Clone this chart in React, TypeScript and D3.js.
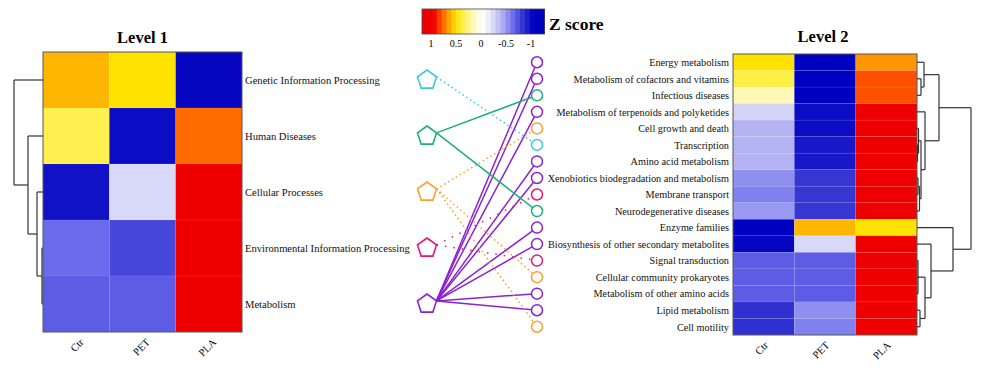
import React from "react";
import * as d3 from "d3";

// ---------- data ----------
const samples = ["Ctr", "PET", "PLA"];

const level1 = [
  "Genetic Information Processing",
  "Human Diseases",
  "Cellular Processes",
  "Environmental Information Processing",
  "Metabolism",
];
const level1Ctr = [0.65, 0.4, -0.93, -0.6, -0.65];
const level1PET = [0.55, -0.95, -0.2, -0.72, -0.65];
const level1PLA = [-0.97, 0.8, 1, 1, 1];

const level2 = [
  "Energy metabolism",
  "Metabolism of cofactors and vitamins",
  "Infectious diseases",
  "Metabolism of terpenoids and polyketides",
  "Cell growth and death",
  "Transcription",
  "Amino acid metabolism",
  "Xenobiotics biodegradation and metabolism",
  "Membrane transport",
  "Neurodegenerative diseases",
  "Enzyme families",
  "Biosynthesis of other secondary metabolites",
  "Signal transduction",
  "Cellular community prokaryotes",
  "Metabolism of other amino acids",
  "Lipid metabolism",
  "Cell motility",
];
const level2Ctr = [0.55, 0.42, 0.22, -0.22, -0.35, -0.35, -0.35, -0.48, -0.53, -0.45, -1, -0.97, -0.65, -0.65, -0.65, -0.8, -0.8];
const level2PET = [-1, -1, -1, -0.95, -0.95, -0.9, -0.9, -0.78, -0.78, -0.78, 0.65, -0.2, -0.65, -0.65, -0.65, -0.48, -0.53];
const level2PLA = [0.72, 0.85, 0.85, 1, 1, 1, 1, 1, 1, 1, 0.55, 1, 1, 1, 1, 1, 1];
// index of the level-1 category each level-2 pathway belongs to
const level2Parent = [4, 4, 1, 4, 2, 0, 4, 4, 3, 1, 4, 4, 3, 2, 4, 4, 2];

const legendTicks = [1, 0.5, 0, -0.5, -1];

// dendrograms (leaf = row index, h = merge height in px)
type TNode = number | { h: number; c: TNode[] };
const treeLeft: TNode = { h: 29, c: [0, { h: 15, c: [1, { h: 6, c: [2, { h: 1, c: [3, 4] }] }] }] };
const treeRight: TNode = {
  h: 54,
  c: [
    {
      h: 22,
      c: [
        { h: 7, c: [0, { h: 4, c: [1, 2] }] },
        {
          h: 8,
          c: [
            3,
            {
              h: 4,
              c: [
                { h: 1.5, c: [4, { h: 0.5, c: [5, 6] }] },
                { h: 2.5, c: [{ h: 1, c: [7, 8] }, 9] },
              ],
            },
          ],
        },
      ],
    },
    { h: 36, c: [10, { h: 14, c: [11, { h: 8, c: [{ h: 1, c: [12, 13, 14] }, { h: 3, c: [15, 16] }] }] }] },
  ],
};

// ---------- styles ----------
const catColors = ["#3ec8dc", "#1fae7a", "#ff9f2e", "#e8157c", "#8a22d0"];
const catDash = ["1.5,3", null, "1.5,3", "1.5,7", null];

const color = d3
  .scaleLinear<string>()
  .domain([1, 0.85, 0.7, 0.55, 0.4, 0.2, 0, -0.2, -0.4, -0.6, -0.8, -1])
  .range(["#ee0000", "#ff5000", "#ffa000", "#ffe200", "#fff050", "#fff8c0", "#ffffff", "#d8d8f8", "#a8a8f2", "#6a6aec", "#3030d0", "#0000c0"])
  .clamp(true);

const FONT = "Liberation Serif, Times New Roman, DejaVu Serif, serif";

function dendro(tree: TNode, yOf: (i: number) => number, xOf: (h: number) => number) {
  const segs: [number, number, number, number][] = [];
  function walk(n: TNode): { y: number; h: number } {
    if (typeof n === "number") return { y: yOf(n), h: 0 };
    const kids = n.c.map(walk);
    const ys = kids.map((k) => k.y);
    const y = (ys[0] + ys[ys.length - 1]) / 2;
    kids.forEach((k) => segs.push([xOf(k.h), k.y, xOf(n.h), k.y]));
    segs.push([xOf(n.h), d3.min(ys)!, xOf(n.h), d3.max(ys)!]);
    return { y, h: n.h };
  }
  walk(tree);
  return segs;
}

function Heatmap({ rows, cols, vals, x, y }: any) {
  return (
    <g>
      {rows.map((r: string, i: number) =>
        cols.map((c: string, j: number) => (
          <rect
            key={r + c}
            x={x(c)}
            y={y(r)}
            width={x.bandwidth()}
            height={y.bandwidth()}
            fill={color(vals[j][i])}
            stroke="rgba(255,255,255,0.12)"
            strokeWidth={0.6}
          />
        ))
      )}
      <rect
        x={x.range()[0]}
        y={y.range()[0]}
        width={x.range()[1] - x.range()[0]}
        height={y.range()[1] - y.range()[0]}
        fill="none"
        stroke="#555"
        strokeWidth={1}
      />
    </g>
  );
}

export default function App() {
  const xL = d3.scaleBand().domain(samples).range([43, 242]);
  const yL = d3.scaleBand().domain(level1).range([52, 332]);
  const xR = d3.scaleBand().domain(samples).range([733, 917]);
  const yR = d3.scaleBand().domain(level2).range([54, 335]);
  const cyL = (i: number) => yL(level1[i])! + yL.bandwidth() / 2;
  const cyR = (i: number) => yR(level2[i])! + yR.bandwidth() / 2;

  const segL = dendro(treeLeft, cyL, (h) => 43 - h);
  const segR = dendro(treeRight, cyR, (h) => 917 + h);

  const pentX = 427;
  const pentR = 10;
  const circX = 537;
  const pent = (cx: number, cy: number) =>
    d3.range(5)
      .map((k) => {
        const a = ((-90 + k * 72) * Math.PI) / 180;
        return `${cx + pentR * Math.cos(a)},${cy + pentR * Math.sin(a)}`;
      })
      .join(" ");
  const rv = (-18 * Math.PI) / 180;

  const lx = d3.scaleLinear().domain([1, -1]).range([431, 531]);
  const legendSteps = d3.range(1.18, -1.27, -0.098);
  const tf = { fontFamily: FONT };

  return (
    <svg width={989} height={377} style={{ position: "absolute", left: 0, top: 0, background: "#fff", fontFamily: FONT }}>
      <rect width={989} height={377} fill="#fff" />
      {/* titles */}
      <text style={tf} x={142.5} y={43} textAnchor="middle" fontSize={16.5} fontWeight="bold">Level 1</text>
      <text style={tf} x={823} y={42} textAnchor="middle" fontSize={16.5} fontWeight="bold">Level 2</text>

      {/* heatmaps */}
      <Heatmap rows={level1} cols={samples} vals={[level1Ctr, level1PET, level1PLA]} x={xL} y={yL} />
      <Heatmap rows={level2} cols={samples} vals={[level2Ctr, level2PET, level2PLA]} x={xR} y={yR} />

      {/* dendrograms */}
      <g stroke="#333" strokeWidth={1.2} fill="none">
        {segL.map((s, i) => <line key={"l" + i} x1={s[0]} y1={s[1]} x2={s[2]} y2={s[3]} />)}
        {segR.map((s, i) => <line key={"r" + i} x1={s[0]} y1={s[1]} x2={s[2]} y2={s[3]} />)}
      </g>

      {/* row labels */}
      {level1.map((r, i) => (
        <text style={tf} key={r} x={245} y={cyL(i) + 4} fontSize={10.6} fill="#111">{r}</text>
      ))}
      {level2.map((r, i) => (
        <text style={tf} key={r} x={729} y={cyR(i) + 3.8} fontSize={10.25} textAnchor="end" fill="#111">{r}</text>
      ))}

      {/* column labels */}
      {samples.map((s) => (
        <text style={tf} key={"cl" + s} transform={`translate(${xL(s)! + xL.bandwidth() / 2 + 8},${343}) rotate(-45)`} textAnchor="end" fontSize={10.5}>{s}</text>
      ))}
      {samples.map((s) => (
        <text style={tf} key={"cr" + s} transform={`translate(${xR(s)! + xR.bandwidth() / 2 + 5},${346}) rotate(-45)`} textAnchor="end" fontSize={10.5}>{s}</text>
      ))}

      {/* connections */}
      {level2.map((r, i) => {
        const p = level2Parent[i];
        const y0 = cyL(p);
        return (
          <line
            key={"c" + r}
            x1={pentX + pentR * Math.cos(rv)}
            y1={y0 + pentR * Math.sin(rv)}
            x2={circX}
            y2={cyR(i)}
            stroke={catColors[p]}
            strokeWidth={1.5}
            strokeDasharray={catDash[p] ?? undefined}
          />
        );
      })}
      {level1.map((r, i) => (
        <polygon key={"p" + r} points={pent(pentX, cyL(i))} fill="#fff" stroke={catColors[i]} strokeWidth={1.6} />
      ))}
      {level2.map((r, i) => (
        <circle key={"o" + r} cx={circX} cy={cyR(i)} r={5.5} fill="#fff" stroke={catColors[level2Parent[i]]} strokeWidth={1.5} />
      ))}

      {/* legend */}
      <g>
        {legendSteps.map((v, i) => (
          <rect key={"lg" + i} x={lx(v)} y={9} width={lx(v - 0.098) - lx(v) + 0.5} height={25} fill={color(v)} />
        ))}
        <rect x={lx(1.18)} y={9} width={lx(-1.27) - lx(1.18)} height={25} fill="none" stroke="#444" strokeWidth={0.8} />
        {legendTicks.map((t) => (
          <text style={tf} key={"t" + t} x={lx(t)} y={47} textAnchor="middle" fontSize={10}>{t}</text>
        ))}
        <text style={tf} x={549} y={30} fontSize={17.5} fontWeight="bold">Z score</text>
      </g>
    </svg>
  );
}
